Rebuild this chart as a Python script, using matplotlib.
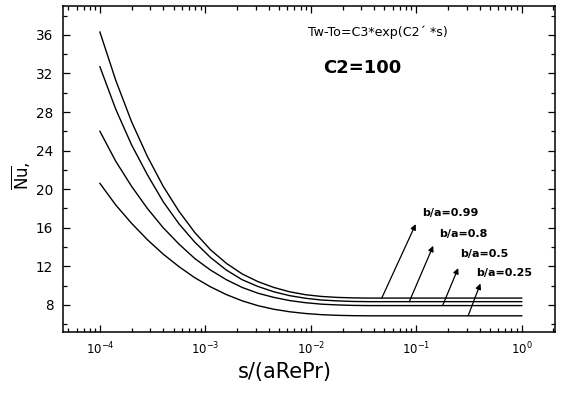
import numpy as np
import matplotlib
matplotlib.use("Agg")
import matplotlib.pyplot as plt
from matplotlib.ticker import MultipleLocator, LogLocator, NullFormatter

# ---- data ----
log_s = [-4.0, -3.85, -3.7, -3.55, -3.4, -3.25, -3.1, -2.95, -2.8, -2.65, -2.5,
         -2.35, -2.2, -2.05, -1.9, -1.75, -1.6, -1.45, -1.3, -1.0, 0.0]
nu_099 = [36.3, 31.3, 27.0, 23.4, 20.3, 17.7, 15.5, 13.7, 12.3, 11.2, 10.4,
          9.8, 9.35, 9.05, 8.87, 8.77, 8.72, 8.70, 8.70, 8.70, 8.70]
nu_080 = [32.7, 28.3, 24.6, 21.5, 18.7, 16.4, 14.5, 12.9, 11.6, 10.6, 9.9,
          9.35, 8.95, 8.68, 8.50, 8.41, 8.35, 8.33, 8.33, 8.33, 8.33]
nu_050 = [26.0, 22.9, 20.3, 18.0, 16.0, 14.3, 12.8, 11.6, 10.6, 9.8, 9.2,
          8.77, 8.44, 8.22, 8.07, 7.99, 7.94, 7.92, 7.92, 7.92, 7.92]
nu_025 = [20.6, 18.36, 16.46, 14.76, 13.26, 11.96, 10.81, 9.86, 9.06, 8.41, 7.91,
          7.54, 7.28, 7.10, 6.98, 6.91, 6.875, 6.86, 6.86, 6.86, 6.86]
series = [nu_099, nu_080, nu_050, nu_025]

labels = ["b/a=0.99", "b/a=0.8", "b/a=0.5", "b/a=0.25"]
arrow_tail = [(-1.327, 8.70), (-1.066, 8.33), (-0.750, 7.92), (-0.508, 6.86)]
arrow_head = [(-1.005, 16.37), (-0.839, 14.12), (-0.602, 11.81), (-0.391, 10.21)]
label_pos = [(-0.948, 17.57), (-0.782, 15.33), (-0.586, 13.32), (-0.428, 11.25)]

yticks = [8, 12, 16, 20, 24, 28, 32, 36]

fig = plt.figure(figsize=(5.62, 3.94), dpi=100)
ax = fig.add_axes([63/562, 1-332.3/394, (555-63)/562, (332.3-6)/394])

s = np.power(10.0, log_s)
for y in series:
    ax.plot(s, y, color="black", lw=1.0)

ax.set_xscale("log")
ax.set_xlim(10**-4.35, 10**0.316)
ax.set_ylim(5.15, 39.0)
ax.set_yticks(yticks)
ax.yaxis.set_minor_locator(MultipleLocator(2))
ax.xaxis.set_major_locator(LogLocator(base=10, numticks=10))
ax.xaxis.set_minor_locator(LogLocator(base=10, subs=np.arange(2, 10), numticks=20))
ax.xaxis.set_minor_formatter(NullFormatter())

ax.tick_params(which="both", direction="in", top=True, right=True, width=0.9)
ax.tick_params(which="major", length=5)
ax.tick_params(which="minor", length=3)
ax.tick_params(axis="y", which="major", labelsize=9.8, pad=7)
ax.tick_params(axis="x", which="major", labelsize=8.5, pad=6)
for sp in ax.spines.values():
    sp.set_linewidth(1.1)

ax.set_xlabel("s/(aRePr)", fontsize=15)
ax.xaxis.set_label_coords(0.451, -0.121)
ax.xaxis.label.set_va("center")
ax.set_ylabel(r"$\overline{\mathrm{Nu}}$,", fontsize=12)
ax.yaxis.set_label_coords(-0.085, 0.48)
ax.yaxis.label.set_va("center")

ax.text(10**-2.027, 36.28, "Tw-To=C3*exp(C2\u00b4 *s)", fontsize=9.1, ha="left", va="center")
ax.text(10**-1.884, 32.58, "C2=100", fontsize=13, fontweight="bold", ha="left", va="center")

for lab, t, h, p in zip(labels, arrow_tail, arrow_head, label_pos):
    ax.annotate("", xy=(10**h[0], h[1]), xytext=(10**t[0], t[1]),
                arrowprops=dict(arrowstyle="-|>", lw=0.9, color="black",
                                mutation_scale=8, shrinkA=0, shrinkB=0))
    ax.text(10**p[0], p[1], lab, fontsize=8, fontweight="bold", ha="left", va="center")

fig.savefig("out.png", dpi=100)
